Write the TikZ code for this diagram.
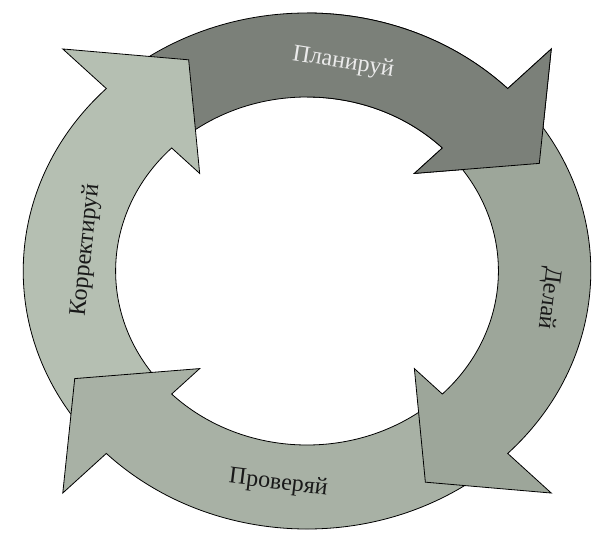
\documentclass[tikz,border=0pt]{standalone}
\usepackage{fontspec}
\setmainfont{Liberation Serif}
\usepackage{tikz}
\definecolor{planC}{HTML}{7B8079}
\definecolor{doC}{HTML}{9DA69A}
\definecolor{checkC}{HTML}{A8B1A5}
\definecolor{actC}{HTML}{B5BFB2}
\tikzset{
  ring/.style={draw=black, line width=0.8pt, line join=miter},
  lbl/.style={font=\fontsize{24}{28}\selectfont, inner sep=0pt}
}
\newcommand{\cycArrow}[3]{\draw[ring,fill=#1] (#2:258) arc[start angle=#2, end angle=#3, radius=258] -- (#3:314) -- ({#3-18}:237) -- (#3:138) -- (#3:174) arc[start angle=#3, end angle=#2, radius=174] -- cycle}

\begin{document}
\begin{tikzpicture}[x=1pt, y=1pt, xscale=1.1]
\useasboundingbox (-279.1,-263) rectangle (262.7,271);

\cycArrow{planC}{128}{45};
\cycArrow{actC}{218}{135};
\cycArrow{checkC}{-52}{-135};
\cycArrow{doC}{38}{-45};
\begin{scope}
  \clip (0,-300) rectangle (300,300);
  \cycArrow{planC}{128}{45};
\end{scope}

\node[lbl, text=black!8, rotate=-9] (plan) at (81:211) {Планируй};
\node[lbl, text=black!90, rotate=-97] (doit) at (-7:221) {Делай};
\node[lbl, text=black!90, rotate=-7] (check) at (-97:214) {Проверяй};
\node[lbl, text=black!90, rotate=84] (correct) at (174:202) {Корректируй};

\end{tikzpicture}
\end{document}
